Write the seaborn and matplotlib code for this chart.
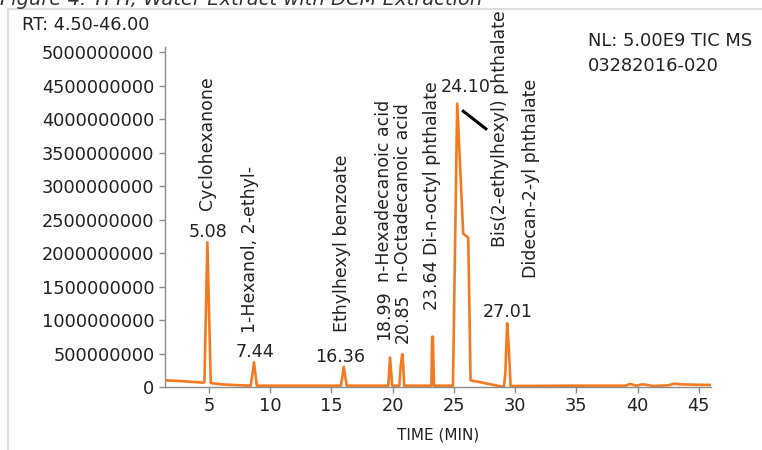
import matplotlib
matplotlib.use("Agg")
import matplotlib.pyplot as plt
import seaborn as sns
import pandas as pd
from matplotlib.ticker import FuncFormatter

# chromatogram trace (time in min, TIC counts)
time_min = [1.4, 2.5, 3.5, 4.5, 4.62, 4.86, 5.14, 5.3, 6.0, 7.0, 8.3,
            8.4, 8.55, 8.67, 8.78, 8.9, 12.0, 15.78, 16.0, 16.24, 19.64,
            19.78, 19.96, 20.54, 20.66, 20.78, 20.86, 20.94, 23.16, 23.22,
            23.28, 23.37, 24.92, 25.27, 25.76, 26.17, 26.36, 29.08, 29.2,
            29.35, 29.48, 29.63, 35.0, 39.0, 39.4, 39.9, 40.4, 40.8, 41.25,
            42.5, 43.0, 43.5, 44.5, 46.0]
intensity = [1.0e8, 9.0e7, 7.8e7, 6.5e7, 7.0e7, 2.16e9, 6.0e7, 5.5e7, 4.0e7,
             3.0e7, 2.0e7, 2.0e7, 2.0e8, 3.7e8, 2.0e8, 2.0e7, 2.0e7, 2.0e7,
             3.0e8, 2.0e7, 2.0e7, 4.4e8, 2.0e7, 2.0e7, 3.2e8, 4.9e8, 3.2e8,
             2.0e7, 2.0e7, 7.5e8, 7.5e8, 2.0e7, 2.0e7, 4.23e9, 2.29e9, 2.23e9,
             1.0e8, 0.0, 2.0e8, 9.5e8, 6.0e8, 1.5e7, 2.0e7, 2.0e7, 4.5e7,
             2.0e7, 4.0e7, 3.0e7, 1.5e7, 2.5e7, 5.0e7, 4.0e7, 3.5e7, 3.0e7]

y_ticks = [0, 5e8, 1e9, 1.5e9, 2e9, 2.5e9, 3e9, 3.5e9, 4e9, 4.5e9, 5e9]
x_ticks = [5, 10, 15, 20, 25, 30, 35, 40, 45]

# rotated compound names: (text, time, bottom intensity)
names = [
    ("Cyclohexanone", 4.84, 2.64e9),
    ("1-Hexanol, 2-ethyl-", 8.35, 0.81e9),
    ("Ethylhexyl benzoate", 15.86, 0.82e9),
    ("18.99", 19.3, 0.70e9),
    ("n-Hexadecanoic acid", 19.3, 1.57e9),
    ("20.85", 20.84, 0.66e9),
    ("n-Octadecanoic acid", 20.84, 1.57e9),
    ("23.64 Di-n-octyl phthalate", 23.22, 1.15e9),
    ("Bis(2-ethylhexyl) phthalate", 28.8, 2.09e9),
    ("Didecan-2-yl phthalate", 31.3, 1.63e9),
]
# horizontal retention time labels: (text, time, centre intensity)
rt_labels = [
    ("5.08", 4.92, 2.31e9),
    ("7.44", 8.76, 0.52e9),
    ("16.36", 15.69, 0.45e9),
    ("24.10", 26.0, 4.48e9),
    ("27.01", 29.4, 1.12e9),
]
pointer_t = [25.67, 27.71]
pointer_i = [4.13e9, 3.84e9]

LINE_COLOR = "#F47A20"
TEXT_COLOR = "#222222"
AXIS_COLOR = "#8c8c8c"

sns.set_style("ticks")
plt.rcParams["font.family"] = ["DejaVu Sans"]

df = pd.DataFrame({"time": time_min, "tic": intensity})

fig = plt.figure(figsize=(7.62, 4.5), dpi=100)
ax = fig.add_axes([165 / 762, 63 / 450, 546 / 762, 340 / 450])

sns.lineplot(data=df, x="time", y="tic", ax=ax, color=LINE_COLOR,
             linewidth=1.9, estimator=None, sort=False)

ax.set_xlim(1.4, 46.0)
ax.set_ylim(0, 5.075e9)
ax.set_xticks(x_ticks)
ax.set_yticks(y_ticks)
ax.yaxis.set_major_formatter(FuncFormatter(lambda v, _: f"{int(round(v))}"))
ax.set_ylabel("")
ax.set_xlabel("TIME (MIN)", fontsize=11, color=TEXT_COLOR, labelpad=9)

sns.despine(ax=ax)
for side in ("left", "bottom"):
    ax.spines[side].set_color(AXIS_COLOR)
    ax.spines[side].set_linewidth(1.0)
ax.tick_params(axis="both", length=4.5, width=1.0, color=AXIS_COLOR,
               labelcolor=TEXT_COLOR, labelsize=12.8, pad=3)

for text, t, i in names:
    ax.text(t, i, text, rotation=90, ha="center", va="bottom",
            fontsize=12.5, color=TEXT_COLOR, clip_on=False)
for text, t, i in rt_labels:
    ax.text(t, i, text, ha="center", va="center", fontsize=12.6,
            color=TEXT_COLOR, clip_on=False)
ax.plot(pointer_t, pointer_i, color="black", linewidth=2.2,
        solid_capstyle="butt", clip_on=False)

fig.text(22 / 762, 1 - 25 / 450, "RT: 4.50-46.00", fontsize=12.7,
         color=TEXT_COLOR, va="center")
fig.text(588 / 762, 1 - 41 / 450, "NL: 5.00E9 TIC MS", fontsize=12.9,
         color=TEXT_COLOR, va="center")
fig.text(588 / 762, 1 - 66 / 450, "03282016-020", fontsize=12.9,
         color=TEXT_COLOR, va="center")

# caption above the panel, cut off by the top edge as in the source
fig.text(0.0, 1 - 5 / 450, "Figure 4. TPH, Water Extract with DCM Extraction",
         fontsize=14, style="italic", color="#333333", va="baseline")

# light frame around the panel
frame = plt.Rectangle((8 / 762, -0.05), 1.0, (450 - 9) / 450 + 0.05,
                      transform=fig.transFigure, fill=False,
                      edgecolor="#dddddd", linewidth=1.6)
fig.add_artist(frame)

fig.savefig("out.png", dpi=100)
plt.close(fig)
